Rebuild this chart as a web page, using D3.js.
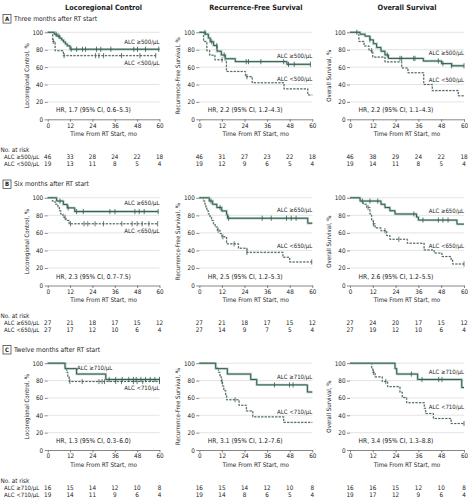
<!DOCTYPE html>
<html><head><meta charset="utf-8">
<script src="https://cdn.jsdelivr.net/npm/d3@7"></script>
<style>
html,body{margin:0;padding:0;background:#fff;}
svg text{font-family:"Liberation Sans Narrow","Arial Narrow","DejaVu Sans Condensed",sans-serif;fill:#222;}
</style></head>
<body><svg id="c" width="468" height="498"></svg>
<script>
// ---------- data ----------
const columnTitles = ["Locoregional Control", "Recurrence-Free Survival", "Overall Survival"];
const yTitles = ["Locoregional Control, %", "Recurrence-Free Survival, %", "Overall Survival, %"];
const rowLetters = ["A", "B", "C"];
const rowTitles = ["Three months after RT start", "Six months after RT start", "Twelve months after RT start"];
const hiLabels = ["ALC \u2265500/\u03bcL", "ALC \u2265650/\u03bcL", "ALC \u2265710/\u03bcL"];
const loLabels = ["ALC <500/\u03bcL", "ALC <650/\u03bcL", "ALC <710/\u03bcL"];
const xTicks = [0, 12, 24, 36, 48, 60];
const yTicks = [0, 20, 40, 60, 80, 100];

const hrTexts = [
  ["HR, 1.7 (95% CI, 0.6\u20135.3)", "HR, 2.2 (95% CI, 1.2\u20134.3)", "HR, 2.2 (95% CI, 1.1\u20134.3)"],
  ["HR, 2.3 (95% CI, 0.7\u20137.5)", "HR, 2.5 (95% CI, 1.2\u20135.3)", "HR, 2.6 (95% CI, 1.2\u20135.5)"],
  ["HR, 1.3 (95% CI, 0.3\u20136.0)", "HR, 3.1 (95% CI, 1.2\u20137.6)", "HR, 3.4 (95% CI, 1.3\u20138.8)"]
];

// numbers at risk [hi, lo]
const riskA_lrc = [[46,33,28,24,22,18],[19,13,11,8,5,4]];
const riskA_rfs = [[46,31,27,23,22,18],[19,12,9,6,5,4]];
const riskA_os  = [[46,38,29,24,22,18],[19,14,11,8,5,4]];
const riskB_lrc = [[27,21,18,17,15,12],[27,17,12,10,6,4]];
const riskB_rfs = [[27,21,18,17,15,12],[27,14,9,7,5,4]];
const riskB_os  = [[27,24,20,17,15,12],[27,19,12,10,6,4]];
const riskC_lrc = [[16,15,14,12,10,8],[19,14,11,9,6,4]];
const riskC_rfs = [[16,15,14,12,10,8],[19,14,8,6,5,4]];
const riskC_os  = [[16,16,15,12,10,8],[19,17,12,9,6,4]];

// Kaplan-Meier steps [month, %] and censor times (months)
const A_lrc_hi = [[0,100],[3.5,97.8],[5,95.6],[6.5,93.3],[7.5,91.1],[8.5,88.9],[9.5,86.6],[10.5,84.4],[12,80.5],[60,80.5]];
const A_lrc_hiC = [4.5,6,12.6,15.5,18.7,20.3,26.2,28.5,33.9,46.2,48.2,52.5,59.6];
const A_lrc_lo = [[0,100],[2.7,89.5],[4,78.9],[8.4,73.2],[58,73.2]];
const A_lrc_loC = [3,8.8,25.7,27.5,30,39.6,49.5,58];

const A_rfs_hi = [[0,100],[3.2,97.8],[4.8,93.5],[5.8,89.1],[7.6,84.8],[9.4,78.3],[11.7,73.9],[13.8,69.6],[19.1,66.3],[46.5,63.2],[59,63.2]];
const A_rfs_hiC = [3,6.6,9.3,13.2,24.9,26.1,32.7,44.8,47.4,50.4,59];
const A_rfs_lo = [[0,100],[2.3,89.5],[4,78.9],[5.5,73.7],[8.3,68.4],[14.4,55],[24.5,49],[28.1,42],[45,35],[57.6,28],[60,28]];
const A_rfs_loC = [12.1,25.3];

const A_os_hi = [[0,100],[5.3,97.8],[7.9,95.6],[10.5,91.3],[12.3,86.9],[14,82.6],[16.3,78.3],[18.4,74],[20.2,70],[38.6,67],[48.2,64],[53.5,61.5],[60,61.5]];
const A_os_hiC = [3.6,10.5,19.6,26.3,27.2,33.5,34.2,46.5,48.9,53.5,60];
const A_os_lo = [[0,100],[4.7,89.5],[7.4,84.2],[10,78.9],[12,71.5],[18.4,66],[27.2,59],[30.5,53.5],[38.8,40],[43.3,33],[57,27],[60,27]];
const A_os_loC = [11.4];

const B_lrc_hi = [[0,100],[4.8,96.3],[8.4,92.4],[10.5,88.5],[14.5,84.3],[59.3,84.3]];
const B_lrc_hiC = [6.6,11,15.5,19.1,33.4,36.1,46.8,49.1,51.8,59.3];
const B_lrc_lo = [[0,100],[2.5,96.3],[4,92.6],[5.5,88.9],[6.3,85.2],[7,81.5],[8.2,77.8],[9.8,74.1],[11.5,70.4],[59,70.4]];
const B_lrc_loC = [9.3,12.2,19.5,21.5,25.4,29.9,39.8,45.3,48,50.7,54.3,59];

const B_rfs_hi = [[0,100],[5.3,96.3],[7.1,92.6],[9.3,88.9],[11.9,85],[14.5,80.7],[15,76.7],[57.6,71],[60,71]];
const B_rfs_hiC = [6.2,11,15.6,33.4,38.2,46.3,48.8,51.4];
const B_rfs_lo = [[0,100],[2.2,96.3],[3,92.6],[3.5,88.9],[4,85.2],[4.8,81.5],[5.7,77.8],[6.5,74.1],[7.5,70.4],[8.4,66.7],[9.6,63],[11,59.3],[12,55.5],[14.5,47.5],[20.8,42.5],[25.3,37.8],[44.4,32.2],[48,26.8],[59.7,26.8]];
const B_rfs_loC = [10,12.5,18.5,25.3,59.7];

const B_os_hi = [[0,100],[5.3,96.3],[16.3,92.6],[18.4,88.9],[21,85.2],[23.7,81.5],[35,78],[36,74.6],[56.3,70],[60,70]];
const B_os_hiC = [6.5,10.5,14.6,33.6,38.4,46.5,48.9,51.6];
const B_os_lo = [[0,100],[5.3,96.3],[7,92.6],[8.8,88.9],[10.5,81.5],[11.4,74],[12.3,70.3],[13.2,65.7],[16.3,62.5],[19.3,57],[21,52.7],[30.2,48.2],[39,40.5],[44.3,37],[48.4,33],[53.2,29.5],[54,24.5],[60,24.5]];
const B_os_loC = [9.5,12.3,18.4,25.7,60];

const C_lrc_hi = [[0,100],[9.3,93.75],[15.5,87.5],[31.2,81.25],[60,81.25]];
const C_lrc_hiC = [33,36.5,40,43.5,46,47.5,50,52.5,55,57.5,60];
const C_lrc_lo = [[0,100],[9.6,94.7],[10.2,89.5],[10.8,84.2],[11.5,78.9],[60,78.9]];
const C_lrc_loC = [11.9,18.5,27.5,29.2,30.5,36.5,39.6,46,48,51,60];

const C_rfs_hi = [[0,100],[8.7,93.75],[14.9,87.5],[27.3,81.25],[30.5,75],[57.4,66.8],[60,66.8]];
const C_rfs_hiC = [39.9,47.9,49.8];
const C_rfs_lo = [[0,100],[8.7,94.7],[10.2,89.5],[11,84.2],[11.7,78.9],[12.3,73.7],[13,68.4],[14,63.2],[14.5,57.9],[21.1,51.5],[25,45],[28.4,38.2],[44.8,31.8],[60,31.8]];
const C_rfs_loC = [12.1,19];

const C_os_hi = [[0,100],[23.7,93.75],[24.6,87.5],[35.6,81.25],[58.8,72],[60,72]];
const C_os_hiC = [32.3,37.9,46.7,48.4];
const C_os_lo = [[0,100],[11.4,94.7],[12,89.5],[13.2,84.2],[17,78.9],[19.8,73],[26.3,66.5],[27.5,60.5],[29.8,54.5],[39.1,48],[39.8,42],[43.9,36.3],[53.2,30.5],[60,30.5]];
const C_os_loC = [12.3,18.8,60];

// ---------- layout ----------
const panels = [
  [{hi:A_lrc_hi,hiC:A_lrc_hiC,lo:A_lrc_lo,loC:A_lrc_loC,risk:riskA_lrc},
   {hi:A_rfs_hi,hiC:A_rfs_hiC,lo:A_rfs_lo,loC:A_rfs_loC,risk:riskA_rfs},
   {hi:A_os_hi,hiC:A_os_hiC,lo:A_os_lo,loC:A_os_loC,risk:riskA_os}],
  [{hi:B_lrc_hi,hiC:B_lrc_hiC,lo:B_lrc_lo,loC:B_lrc_loC,risk:riskB_lrc},
   {hi:B_rfs_hi,hiC:B_rfs_hiC,lo:B_rfs_lo,loC:B_rfs_loC,risk:riskB_rfs},
   {hi:B_os_hi,hiC:B_os_hiC,lo:B_os_lo,loC:B_os_loC,risk:riskB_os}],
  [{hi:C_lrc_hi,hiC:C_lrc_hiC,lo:C_lrc_lo,loC:C_lrc_loC,risk:riskC_lrc},
   {hi:C_rfs_hi,hiC:C_rfs_hiC,lo:C_rfs_lo,loC:C_rfs_loC,risk:riskC_rfs},
   {hi:C_os_hi,hiC:C_os_hiC,lo:C_os_lo,loC:C_os_loC,risk:riskC_os}]
];
// label anchors in data units: [t, %, anchor]
const labelPos = [
  [{hi:[60,88.8,"end"],lo:[60,64.7,"end"]},{hi:[60,72,"end"],lo:[60,46,"end"]},{hi:[60,75.9,"end"],lo:[60,45,"end"]}],
  [{hi:[60,93.6,"end"],lo:[60,61.4,"end"]},{hi:[60,85.2,"end"],lo:[60,45,"end"]},{hi:[60,84,"end"],lo:[60,45,"end"]}],
  [{hi:[25.2,94,"middle"],lo:[60,71,"end"]},{hi:[60,83.3,"end"],lo:[60,43.2,"end"]},{hi:[60,89,"end"],lo:[60,49,"end"]}]
];

const colX0 = [47.7, 199.3, 350], colX1 = [159.5, 312.3, 464];
const rowTop = [32.3, 197.8, 363.2], rowBot = [119.3, 285.5, 450];

const svg = d3.select("#c");
const FS = 6.3;
const hiColor = "#35594f", loColor = "#4a5753", halo = "#a9cbbb";
const txt = (x, y, s, size, anchor) => svg.append("text").attr("x", x).attr("y", y)
  .attr("text-anchor", anchor || "start").attr("dominant-baseline", "middle")
  .style("font-size", size + "px").text(s);

// column titles
columnTitles.forEach((t, c) => {
  txt((colX0[c] + colX1[c]) / 2, 8.5, t, 7.3, "middle").style("font-weight", "bold");
});

rowLetters.forEach((L, r) => {
  const cy = rowTop[r] - 13.5;
  svg.append("rect").attr("x", 3).attr("y", cy - 4.3).attr("width", 8).attr("height", 8.6)
    .attr("fill", "#fff").attr("stroke", "#333").attr("stroke-width", 0.7);
  txt(7, cy + 0.3, L, 6, "middle").style("font-weight", "bold");
  txt(14, cy, rowTitles[r], 6.7);

  const b = rowBot[r];
  txt(0.5, b + 31, "No. at risk", FS);
  txt(4, b + 38.2, hiLabels[r], 6);
  txt(4, b + 45.2, loLabels[r], 6);

  panels[r].forEach((p, c) => {
    const x = d3.scaleLinear().domain([0, 60]).range([colX0[c], colX1[c]]);
    const y = d3.scaleLinear().domain([0, 100]).range([rowBot[r], rowTop[r]]);
    const g = svg.append("g");

    g.selectAll("line.grid").data(yTicks.filter(v => v > 0)).enter().append("line")
      .attr("x1", x(0)).attr("x2", x(60)).attr("y1", d => y(d)).attr("y2", d => y(d))
      .attr("stroke", "#d8d8d8").attr("stroke-width", 0.7);

    const ya = g.append("g").attr("transform", `translate(${x(0)},0)`)
      .call(d3.axisLeft(y).tickValues(yTicks).tickSize(3).tickPadding(1.5));
    ya.select(".domain").remove();
    ya.selectAll("line").attr("stroke", "#555").attr("stroke-width", 0.7);
    ya.selectAll("text").style("font-size", FS + "px").attr("fill", "#222");

    const xa = g.append("g").attr("transform", `translate(0,${y(0)})`)
      .call(d3.axisBottom(x).tickValues(xTicks).tickSize(2.5).tickPadding(1.5).tickSizeOuter(0));
    xa.select(".domain").attr("stroke", "#555").attr("stroke-width", 0.7);
    xa.selectAll("line").attr("stroke", "#555").attr("stroke-width", 0.7);
    xa.selectAll("text").style("font-size", FS + "px").attr("fill", "#222");

    txt((x(0) + x(60)) / 2, y(0) + 15, "Time From RT Start, mo", 6.3, "middle");

    svg.append("text").attr("transform", `translate(${x(0) - 20.5},${(y(0) + y(100)) / 2}) rotate(-90)`)
      .attr("text-anchor", "middle").attr("dominant-baseline", "middle")
      .style("font-size", "6.1px").text(yTitles[c]);

    txt(x(4.5), y(10), hrTexts[r][c], 6.6);

    const line = d3.line().x(d => x(d[0])).y(d => y(d[1])).curve(d3.curveStepAfter);
    const valAt = (steps, t) => { const i = d3.bisector(d => d[0]).right(steps, t) - 1; return steps[Math.max(0, i)][1]; };

    g.append("path").attr("d", line(p.lo)).attr("fill", "none").attr("stroke", halo)
      .attr("stroke-width", 1.6).attr("stroke-dasharray", "2.2,1.3").attr("opacity", 0.8);
    g.append("path").attr("d", line(p.lo)).attr("fill", "none").attr("stroke", loColor)
      .attr("stroke-width", 0.9).attr("stroke-dasharray", "2.2,1.3");
    g.selectAll("line.clo").data(p.loC).enter().append("line")
      .attr("x1", d => x(d)).attr("x2", d => x(d))
      .attr("y1", d => y(valAt(p.lo, d)) - 2.6).attr("y2", d => y(valAt(p.lo, d)) + 2.6)
      .attr("stroke", loColor).attr("stroke-width", 0.8);

    g.append("path").attr("d", line(p.hi)).attr("fill", "none").attr("stroke", halo)
      .attr("stroke-width", 2.4).attr("opacity", 0.9);
    g.append("path").attr("d", line(p.hi)).attr("fill", "none").attr("stroke", hiColor)
      .attr("stroke-width", 1);
    g.selectAll("line.chi").data(p.hiC).enter().append("line")
      .attr("x1", d => x(d)).attr("x2", d => x(d))
      .attr("y1", d => y(valAt(p.hi, d)) - 2.6).attr("y2", d => y(valAt(p.hi, d)) + 2.6)
      .attr("stroke", hiColor).attr("stroke-width", 0.8);

    const lp = labelPos[r][c];
    txt(x(lp.hi[0]), y(lp.hi[1]), hiLabels[r], 6, lp.hi[2]);
    txt(x(lp.lo[0]), y(lp.lo[1]), loLabels[r], 6, lp.lo[2]);

    [0, 1].forEach(k => {
      svg.selectAll(null).data(p.risk[k]).enter().append("text")
        .attr("x", (d, i) => x(xTicks[i])).attr("y", rowBot[r] + (k === 0 ? 38.2 : 45.2))
        .attr("text-anchor", "middle").attr("dominant-baseline", "middle")
        .style("font-size", FS + "px").text(d => d);
    });
  });
});
</script></body></html>
